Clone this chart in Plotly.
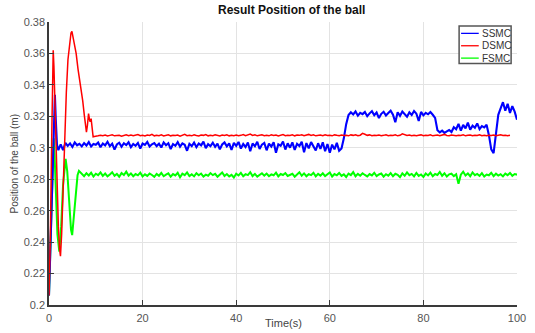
import plotly.graph_objects as go

# ---- data -------------------------------------------------------------
series_names = ["SSMC", "DSMC", "FSMC"]
series_colors = ["#0000ff", "#ff0000", "#00ff00"]
series_widths = [2.1, 1.5, 2.0]

sample_step = 0.5  # s, spacing of the steady-state samples

# SSMC
ssmc_t_transient = [0, 0.3, 0.6, 0.9, 1.1, 1.26, 1.45, 1.7, 2.0]
ssmc_transient = [0.206, 0.235, 0.270, 0.305, 0.325, 0.3337, 0.318, 0.302, 0.2985]
ssmc_steady_start = 2.5
ssmc_steady = [
    0.3022, 0.2985, 0.3031, 0.3012, 0.3028, 0.3005, 0.3034, 0.3016, 0.3025, 0.3009,
    0.3030, 0.3014, 0.3036, 0.3008, 0.3024, 0.3019, 0.3033, 0.3003, 0.3027, 0.3015,
    0.3038, 0.3010, 0.3026, 0.2988, 0.3021, 0.3032, 0.3006, 0.3029, 0.3017, 0.3035,
    0.3004, 0.3024, 0.3013, 0.3031, 0.2995, 0.3027, 0.3018, 0.3037, 0.3008, 0.3022,
    0.3030, 0.3011, 0.3026, 0.3002, 0.3034, 0.3016, 0.3029, 0.2992, 0.3024, 0.3013,
    0.3036, 0.3007, 0.3028, 0.3019, 0.2981, 0.3025, 0.3011, 0.3033, 0.3004, 0.3027,
    0.3015, 0.3039, 0.2998, 0.3023, 0.3010, 0.3032, 0.3006, 0.3026, 0.2990, 0.3021,
    0.3034, 0.3009, 0.3028, 0.2986, 0.3031, 0.3012, 0.3037, 0.2995, 0.3024, 0.3005,
    0.3033, 0.2978, 0.3027, 0.3010, 0.3038, 0.2992, 0.3020, 0.3031, 0.2984, 0.3026,
    0.3008, 0.3035, 0.2969, 0.3022, 0.3013, 0.3040, 0.2989, 0.3028, 0.3001, 0.3034,
    0.2987, 0.3025, 0.3011, 0.3039, 0.2972, 0.3030, 0.2996, 0.3036, 0.3006, 0.2983,
    0.3029, 0.2993, 0.3035, 0.2978, 0.3024, 0.2968, 0.3020, 0.2990, 0.3031, 0.2981,
    0.2995, 0.3060, 0.3150, 0.3208, 0.3226, 0.3212, 0.3231, 0.3204, 0.3222, 0.3214,
    0.3228, 0.3201, 0.3219, 0.3233, 0.3207, 0.3224, 0.3189, 0.3216, 0.3229, 0.3205,
    0.3221, 0.3236, 0.3210, 0.3162, 0.3226, 0.3203, 0.3231, 0.3214, 0.3198, 0.3225,
    0.3209, 0.3234, 0.3217, 0.3170, 0.3228, 0.3206, 0.3222, 0.3213, 0.3227, 0.3210,
    0.3190, 0.3112, 0.3098, 0.3109, 0.3095, 0.3104, 0.3113, 0.3100, 0.3131, 0.3118,
    0.3152, 0.3109, 0.3145, 0.3124, 0.3160, 0.3115, 0.3141, 0.3127, 0.3155, 0.3119,
    0.3138, 0.3130, 0.3146, 0.3080, 0.2990, 0.2966, 0.3080, 0.3210, 0.3250, 0.3290,
    0.3236, 0.3280, 0.3222, 0.3265, 0.3230, 0.3178,
]

# DSMC
dsmc_t_transient = [0, 0.3, 0.6, 0.8, 0.9, 1.05, 1.3, 1.6, 2.0, 2.25, 2.45, 2.7,
                    3.0, 3.35, 3.7, 4.05, 4.4, 4.7, 4.9, 5.2, 5.5, 5.8, 6.2, 6.5,
                    6.85, 7.2, 7.55, 8.0, 8.2, 8.45, 8.65, 8.8, 9.0, 9.2, 9.43, 9.7]
dsmc_transient = [0.206, 0.245, 0.310, 0.352, 0.362, 0.352, 0.325, 0.288, 0.250,
                  0.236, 0.231, 0.245, 0.275, 0.306, 0.335, 0.356, 0.368, 0.373,
                  0.374, 0.370, 0.364, 0.360, 0.350, 0.344, 0.3385, 0.330, 0.3206,
                  0.310, 0.314, 0.3217, 0.318, 0.3165, 0.3185, 0.313, 0.307, 0.3072]
dsmc_steady_start = 10.0
dsmc_steady = [
    0.3072, 0.3076, 0.3080, 0.3077, 0.3081, 0.3075, 0.3079, 0.3083, 0.3076, 0.3078,
    0.3080, 0.3074, 0.3079, 0.3082, 0.3077, 0.3081, 0.3076, 0.3079, 0.3084, 0.3077,
    0.3079, 0.3075, 0.3081, 0.3078, 0.3086, 0.3076, 0.3080, 0.3077, 0.3082, 0.3075,
    0.3079, 0.3083, 0.3076, 0.3080, 0.3078, 0.3081, 0.3074, 0.3079, 0.3085, 0.3077,
    0.3080, 0.3076, 0.3082, 0.3078, 0.3075, 0.3081, 0.3079, 0.3084, 0.3076, 0.3080,
    0.3077, 0.3082, 0.3079, 0.3075, 0.3081, 0.3078, 0.3083, 0.3076, 0.3080, 0.3077,
    0.3081, 0.3076, 0.3079, 0.3084, 0.3077, 0.3080, 0.3087, 0.3078, 0.3082, 0.3076,
    0.3079, 0.3083, 0.3077, 0.3080, 0.3076, 0.3082, 0.3078, 0.3081, 0.3075, 0.3079,
    0.3084, 0.3077, 0.3080, 0.3078, 0.3082, 0.3076, 0.3081, 0.3079, 0.3083, 0.3077,
    0.3080, 0.3085, 0.3078, 0.3082, 0.3076, 0.3079, 0.3081, 0.3077, 0.3083, 0.3078,
    0.3080, 0.3076, 0.3082, 0.3079, 0.3077, 0.3081, 0.3078, 0.3080, 0.3076, 0.3082,
    0.3079, 0.3083, 0.3077, 0.3080, 0.3092, 0.3086, 0.3079, 0.3082, 0.3077, 0.3080,
    0.3078, 0.3081, 0.3076, 0.3079, 0.3083, 0.3077, 0.3080, 0.3078, 0.3082, 0.3076,
    0.3079, 0.3089, 0.3084, 0.3078, 0.3081, 0.3077, 0.3080, 0.3076, 0.3079, 0.3082,
    0.3077, 0.3080, 0.3078, 0.3083, 0.3076, 0.3079, 0.3081, 0.3077, 0.3080, 0.3085,
    0.3078, 0.3076, 0.3081, 0.3079, 0.3077, 0.3080, 0.3078, 0.3082, 0.3076, 0.3079,
    0.3081, 0.3077, 0.3080, 0.3078, 0.3083, 0.3077, 0.3079, 0.3076, 0.3080, 0.3078,
    0.3081, 0.3077, 0.3079, 0.3083, 0.3078, 0.3080, 0.3076, 0.3079,
]

# FSMC
fsmc_t_transient = [0, 0.3, 0.6, 0.85, 1.0, 1.2, 1.5, 1.8, 2.2, 2.6, 3.0, 3.3,
                    3.55, 3.9, 4.3, 4.7, 4.95, 5.3, 5.7, 6.1, 6.4]
fsmc_transient = [0.206, 0.240, 0.275, 0.300, 0.306, 0.295, 0.268, 0.245, 0.234,
                  0.250, 0.276, 0.289, 0.293, 0.285, 0.264, 0.248, 0.2445, 0.256,
                  0.273, 0.2825, 0.2853]
fsmc_steady_start = 7.0
fsmc_steady = [
    0.2832, 0.2819, 0.2838, 0.2824, 0.2841, 0.2817, 0.2835, 0.2826, 0.2843, 0.2821,
    0.2836, 0.2818, 0.2830, 0.2844, 0.2822, 0.2834, 0.2816, 0.2839, 0.2827, 0.2848,
    0.2823, 0.2837, 0.2819, 0.2833, 0.2825, 0.2842, 0.2818, 0.2831, 0.2821, 0.2836,
    0.2827, 0.2815, 0.2834, 0.2822, 0.2840, 0.2819, 0.2829, 0.2837, 0.2816, 0.2833,
    0.2824, 0.2841, 0.2812, 0.2835, 0.2826, 0.2843, 0.2820, 0.2831, 0.2818, 0.2838,
    0.2825, 0.2836, 0.2817, 0.2829, 0.2822, 0.2839, 0.2826, 0.2834, 0.2816, 0.2830,
    0.2843, 0.2821, 0.2833, 0.2818, 0.2828, 0.2811, 0.2835, 0.2824, 0.2840, 0.2819,
    0.2832, 0.2826, 0.2845, 0.2820, 0.2834, 0.2817, 0.2829, 0.2838, 0.2823, 0.2836,
    0.2819, 0.2831, 0.2825, 0.2842, 0.2818, 0.2833, 0.2827, 0.2839, 0.2821, 0.2830,
    0.2835, 0.2816, 0.2828, 0.2844, 0.2822, 0.2837, 0.2819, 0.2832, 0.2826, 0.2841,
    0.2818, 0.2834, 0.2823, 0.2838, 0.2820, 0.2829, 0.2843, 0.2817, 0.2833, 0.2825,
    0.2840, 0.2821, 0.2831, 0.2814, 0.2836, 0.2826, 0.2845, 0.2819, 0.2834, 0.2822,
    0.2838, 0.2827, 0.2818, 0.2833, 0.2824, 0.2841, 0.2820, 0.2830, 0.2836, 0.2816,
    0.2832, 0.2823, 0.2839, 0.2819, 0.2835, 0.2828, 0.2813, 0.2837, 0.2822, 0.2843,
    0.2826, 0.2834, 0.2818, 0.2840, 0.2821, 0.2830, 0.2815, 0.2836, 0.2824, 0.2842,
    0.2819, 0.2833, 0.2827, 0.2846, 0.2822, 0.2838, 0.2817, 0.2831, 0.2835, 0.2820,
    0.2832, 0.2771, 0.2829, 0.2848, 0.2824, 0.2837, 0.2819, 0.2843, 0.2826, 0.2834,
    0.2821, 0.2839, 0.2817, 0.2830, 0.2825, 0.2841, 0.2820, 0.2835, 0.2823, 0.2832,
    0.2818, 0.2836, 0.2826, 0.2840, 0.2822, 0.2833, 0.2829,
]

x_ticks = [0, 20, 40, 60, 80, 100]
y_ticks = [0.2, 0.22, 0.24, 0.26, 0.28, 0.3, 0.32, 0.34, 0.36, 0.38]


def full_series(t_transient, transient, start, steady):
    t_steady = [start + sample_step * i for i in range(len(steady))]
    return list(t_transient) + t_steady, list(transient) + list(steady)


curves = [
    full_series(ssmc_t_transient, ssmc_transient, ssmc_steady_start, ssmc_steady),
    full_series(dsmc_t_transient, dsmc_transient, dsmc_steady_start, dsmc_steady),
    full_series(fsmc_t_transient, fsmc_transient, fsmc_steady_start, fsmc_steady),
]

# ---- figure -----------------------------------------------------------
fig = go.Figure()
# green underneath, then blue, then red on top
for i in [2, 0, 1]:
    t, v = curves[i]
    fig.add_trace(go.Scatter(
        x=t, y=v, mode="lines", name=series_names[i], showlegend=False,
        line=dict(color=series_colors[i], width=series_widths[i]),
    ))

font_family = "Liberation Sans, Arial, sans-serif"
axis_common = dict(
    showgrid=True, gridcolor="#e3e3e3", gridwidth=1,
    zeroline=False, showline=True, linecolor="#3a3a3a", linewidth=1.5,
    ticks="inside", ticklen=5, tickcolor="#3a3a3a", tickwidth=1,
    tickfont=dict(family=font_family, size=11, color="#555555"),
    ticklabeloverflow="allow",
)

# plot-area geometry in pixels, used to place the boxed legend
W, H = 535, 333
M_L, M_R, M_T, M_B = 49, 9, 22, 25
PW, PH = W - M_L - M_R, H - M_T - M_B


def px(xp):
    return (xp - M_L) / PW


def py(yp):
    return (H - M_B - yp) / PH


legend_rows = [33.5, 46, 58.5]
shapes = [dict(type="rect", xref="paper", yref="paper",
               x0=px(467), x1=px(520), y0=py(64), y1=py(26),
               fillcolor="white", line=dict(color="#555555", width=1.5), layer="above")]
annotations = []
for name, color, row in zip(series_names, series_colors, legend_rows):
    shapes.append(dict(type="line", xref="paper", yref="paper",
                       x0=px(469), x1=px(487), y0=py(row), y1=py(row),
                       line=dict(color=color, width=1.3), layer="above"))
    annotations.append(dict(text=name, xref="paper", yref="paper",
                            x=px(488), y=py(row), xanchor="left", yanchor="middle",
                            showarrow=False,
                            font=dict(family=font_family, size=10, color="#333333")))

annotations += [
    dict(text="<b>Result Position of the ball</b>", xref="paper", yref="paper",
         x=px(296), y=1.0, yshift=3, xanchor="center", yanchor="bottom",
         showarrow=False, font=dict(family=font_family, size=12, color="#111111")),
    dict(text="Time(s)", xref="paper", yref="paper",
         x=0.5, y=0, yshift=-18, xanchor="center", yanchor="middle",
         showarrow=False, font=dict(family=font_family, size=11, color="#444444")),
    dict(text="Position of the ball (m)", xref="paper", yref="paper",
         x=0, xshift=-35, y=0.5, xanchor="center", yanchor="middle", textangle=-90,
         showarrow=False, font=dict(family=font_family, size=10, color="#444444")),
]

fig.update_layout(
    width=W, height=H,
    margin=dict(l=M_L, r=M_R, t=M_T, b=M_B),
    paper_bgcolor="white", plot_bgcolor="white",
    showlegend=False,
    xaxis=dict(range=[0, 100], tickvals=x_ticks, ticklabelstandoff=2, **axis_common),
    yaxis=dict(range=[0.2, 0.38], tickvals=y_ticks, **axis_common),
    shapes=shapes,
    annotations=annotations,
)

fig.write_html("out.html")
